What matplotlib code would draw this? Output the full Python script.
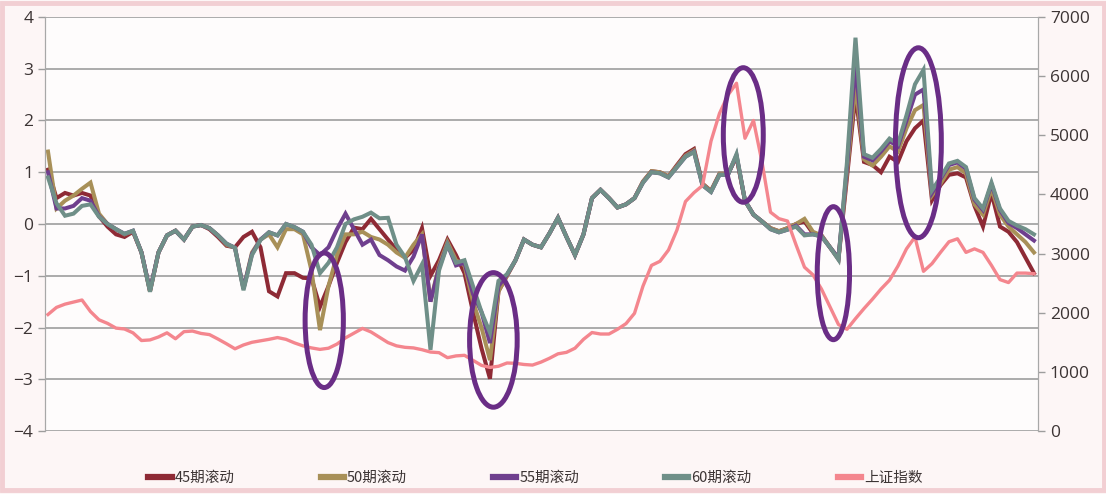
import numpy as np
import matplotlib
matplotlib.use("Agg")
import matplotlib.pyplot as plt
from matplotlib.patches import Ellipse, Rectangle

plt.rcParams['font.family'] = ['Noto Sans CJK SC', 'DejaVu Sans']

# monthly values, 2001-01 .. 2010-09
roll_60 = [0.9, 0.4, 0.16, 0.2, 0.35, 0.38, 0.14, 0.0, -0.1, -0.19,
           -0.13, -0.55, -1.31, -0.55, -0.22, -0.13, -0.3, -0.05, -0.02, -0.08,
           -0.22, -0.38, -0.46, -1.28, -0.6, -0.31, -0.16, -0.22, 0.0, -0.06,
           -0.15, -0.4, -0.95, -0.75, -0.45, 0.0, 0.09, 0.14, 0.22, 0.11,
           0.12, -0.4, -0.64, -1.1, -0.78, -2.43, -0.9, -0.4, -0.75, -0.7,
           -1.2, -1.7, -2.1, -1.1, -0.97, -0.7, -0.3, -0.4, -0.45, -0.18,
           0.12, -0.25, -0.6, -0.2, 0.5, 0.66, 0.5, 0.32, 0.38, 0.5,
           0.8, 1.0, 0.98, 0.9, 1.1, 1.3, 1.39, 0.75, 0.62, 0.95,
           0.95, 1.35, 0.45, 0.18, 0.05, -0.1, -0.16, -0.11, -0.05, -0.22,
           -0.2, -0.24, -0.45, -0.69, 1.2, 3.6, 1.35, 1.28, 1.45, 1.65,
           1.55, 2.1, 2.7, 2.98, 0.65, 0.9, 1.17, 1.22, 1.1, 0.5,
           0.3, 0.8, 0.3, 0.06, -0.03, -0.1, -0.2]

roll_55 = [1.0, 0.3, 0.3, 0.35, 0.5, 0.45, 0.15, 0.0, -0.1, -0.19,
           -0.13, -0.55, -1.28, -0.55, -0.22, -0.13, -0.3, -0.05, -0.02, -0.08,
           -0.22, -0.38, -0.46, -1.25, -0.58, -0.3, -0.16, -0.22, 0.0, -0.06,
           -0.15, -0.45, -0.6, -0.45, -0.1, 0.2, -0.1, -0.4, -0.3, -0.6,
           -0.7, -0.82, -0.9, -0.63, -0.2, -1.5, -0.85, -0.4, -0.8, -0.75,
           -1.35, -1.7, -2.3, -1.2, -0.98, -0.7, -0.3, -0.4, -0.45, -0.18,
           0.12, -0.25, -0.6, -0.2, 0.5, 0.66, 0.5, 0.32, 0.38, 0.5,
           0.8, 1.0, 0.98, 0.9, 1.1, 1.3, 1.4, 0.75, 0.62, 0.95,
           0.95, 1.33, 0.45, 0.18, 0.05, -0.1, -0.16, -0.11, -0.03, -0.2,
           -0.2, -0.24, -0.45, -0.66, 1.1, 3.1, 1.3, 1.23, 1.4, 1.6,
           1.5, 2.0, 2.5, 2.6, 0.6, 0.87, 1.14, 1.19, 1.07, 0.47,
           0.27, 0.77, 0.27, 0.02, -0.08, -0.2, -0.32]

roll_50 = [1.4, 0.3, 0.45, 0.55, 0.68, 0.8, 0.2, 0.0, -0.1, -0.2,
           -0.14, -0.55, -1.3, -0.55, -0.22, -0.13, -0.3, -0.05, -0.02, -0.08,
           -0.22, -0.4, -0.46, -1.25, -0.55, -0.3, -0.2, -0.45, -0.1, -0.1,
           -0.2, -0.9, -2.05, -1.2, -0.6, -0.2, -0.2, -0.15, -0.25, -0.3,
           -0.4, -0.55, -0.65, -0.4, -0.2, -1.5, -0.8, -0.35, -0.7, -0.8,
           -1.5, -2.0, -2.63, -1.3, -1.0, -0.7, -0.3, -0.4, -0.45, -0.18,
           0.12, -0.25, -0.6, -0.2, 0.5, 0.66, 0.5, 0.32, 0.38, 0.5,
           0.82, 1.02, 1.0, 0.92, 1.12, 1.32, 1.42, 0.77, 0.64, 0.97,
           0.97, 1.3, 0.45, 0.18, 0.05, -0.08, -0.14, -0.08, 0.0, 0.1,
           -0.15, -0.22, -0.45, -0.66, 1.0, 2.7, 1.25, 1.13, 1.3, 1.5,
           1.4, 1.85, 2.2, 2.3, 0.55, 0.78, 1.05, 1.1, 0.98, 0.38,
           0.18, 0.68, 0.18, -0.05, -0.2, -0.35, -0.55]

roll_45 = [1.05, 0.5, 0.6, 0.55, 0.6, 0.55, 0.15, -0.05, -0.2, -0.25,
           -0.15, -0.55, -1.3, -0.55, -0.22, -0.13, -0.3, -0.05, -0.02, -0.1,
           -0.25, -0.42, -0.45, -0.25, -0.15, -0.45, -1.3, -1.4, -0.95, -0.95,
           -1.04, -1.05, -1.6, -1.2, -0.75, -0.35, -0.07, -0.1, 0.1, -0.1,
           -0.3, -0.5, -0.65, -0.5, -0.08, -1.0, -0.7, -0.3, -0.6, -0.95,
           -1.7, -2.4, -2.99, -1.3, -1.0, -0.7, -0.3, -0.4, -0.45, -0.18,
           0.12, -0.25, -0.6, -0.2, 0.5, 0.66, 0.5, 0.32, 0.38, 0.5,
           0.82, 1.02, 1.0, 0.92, 1.14, 1.35, 1.45, 0.78, 0.64, 0.97,
           0.97, 1.3, 0.45, 0.18, 0.05, -0.08, -0.14, -0.08, 0.0, 0.05,
           -0.18, -0.22, -0.45, -0.68, 0.9, 2.5, 1.2, 1.14, 1.0, 1.3,
           1.2, 1.6, 1.85, 2.0, 0.46, 0.75, 0.95, 0.98, 0.9, 0.35,
           -0.05, 0.6, -0.05, -0.15, -0.35, -0.65, -0.95]

sh_index = [1970, 2090, 2145, 2180, 2215, 2020, 1880, 1820, 1740, 1725,
            1660, 1530, 1540, 1590, 1660, 1560, 1680, 1690, 1650, 1630,
            1555, 1475, 1390, 1455, 1500, 1525, 1550, 1580, 1550, 1490,
            1440, 1405, 1380, 1400, 1470, 1575, 1655, 1735, 1675, 1585,
            1495, 1440, 1415, 1405, 1375, 1335, 1325, 1240, 1270, 1280,
            1195, 1110, 1075, 1095, 1150, 1145, 1125, 1115, 1165, 1230,
            1305, 1330, 1400, 1550, 1665, 1640, 1640, 1720, 1815, 1990,
            2450, 2800, 2870, 3060, 3400, 3880, 4030, 4150, 4900, 5370,
            5680, 5880, 4950, 5250, 4550, 3700, 3590, 3550, 3150, 2770,
            2640, 2400, 2100, 1800, 1720, 1900, 2070, 2230, 2400, 2550,
            2790, 3080, 3280, 2700, 2830, 3020, 3200, 3250, 3020, 3080,
            3020, 2800, 2560, 2510, 2670, 2670, 2660]

labels = ['45期滚动', '50期滚动', '55期滚动', '60期滚动', '上证指数']
colors = ['#8e2a35', '#a89058', '#6f3f8e', '#6f8f88', '#f4868e']

# marked periods: (month index, value, width, height)
marks = [(32.5, -1.86, 4.5, 2.6),
         (52.4, -2.24, 5.6, 2.6),
         (81.8, 1.72, 4.7, 2.6),
         (92.4, -0.95, 3.8, 2.57),
         (102.4, 1.57, 5.4, 3.67)]

x = np.arange(len(sh_index))

fig = plt.figure(figsize=(11.06, 4.94), dpi=100)
fig.patch.set_facecolor('#fdf6f6')
fig.patches.append(Rectangle((0.002, 0.008), 0.996, 0.985, transform=fig.transFigure,
                             fill=False, edgecolor='#f2cfd3', linewidth=3.5))

ax = fig.add_axes([0.0407, 0.1275, 0.8978, 0.8381])
ax.set_facecolor('#fefcfc')
ax2 = ax.twinx()

lines = []
for s, c in zip([roll_45, roll_50, roll_55, roll_60], colors[:4]):
    l, = ax.plot(x, s, color=c, lw=2.9, solid_joinstyle='miter')
    lines.append(l)
l, = ax2.plot(x, sh_index, color=colors[4], lw=2.4)
lines.append(l)

ax.set_xlim(-0.35, 116.47)
ax.set_ylim(-4, 4)
ax2.set_ylim(0, 7000)
ax.set_yticks(range(-4, 5))
ax2.set_yticks(range(0, 7001, 1000))
ax.set_xticks([])
ax.yaxis.grid(True, color='#959595', lw=1.1)
ax.set_axisbelow(True)

for a in (ax, ax2):
    a.spines['top'].set_visible(False)
    a.spines['bottom'].set_visible(False)
    a.spines['left'].set_color('#a8a8a8')
    a.spines['right'].set_color('#a8a8a8')
    a.tick_params(axis='y', colors='#9d9d9d', labelcolor='#3c3434',
                  labelsize=12.5, length=5, width=1)
for t in ax.get_yticklabels() + ax2.get_yticklabels():
    t.set_family(['Open Sans', 'DejaVu Sans'])

for cx, cy, w, h in marks:
    ax2.add_patch(Ellipse((cx, cy), w, h, transform=ax.transData,
                          fill=False, edgecolor='#6a2d86', lw=3.6, zorder=5))

fig.legend(lines, labels, loc='center', bbox_to_anchor=(0.484, 0.033), ncol=5,
           frameon=False, fontsize=10.5, handlelength=1.6, handletextpad=0.2,
           columnspacing=5.9, labelcolor='#3c3434')
for h in fig.legends[0].legend_handles:
    h.set_linewidth(4.5)

fig.savefig('out.png', dpi=100, facecolor=fig.get_facecolor())
